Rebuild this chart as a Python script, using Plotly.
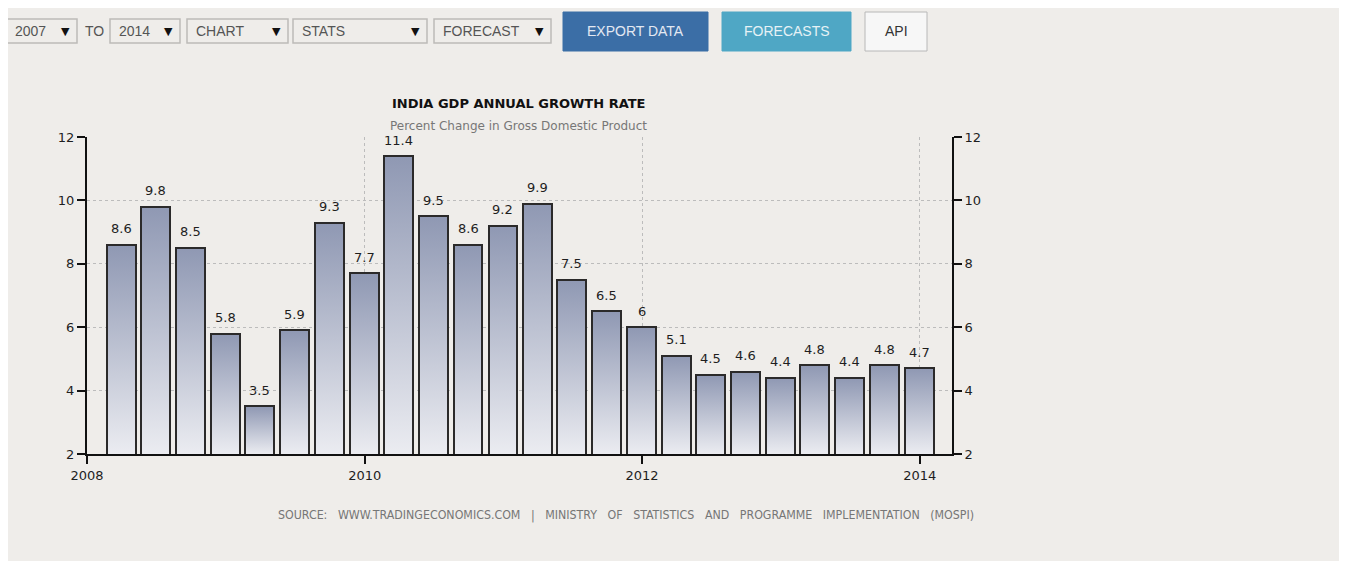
import pandas as pd
import plotly.graph_objects as go

# ---------------- data ----------------
quarters = ["2008-03-31", "2008-06-30", "2008-09-30", "2008-12-31",
            "2009-03-31", "2009-06-30", "2009-09-30", "2009-12-31",
            "2010-03-31", "2010-06-30", "2010-09-30", "2010-12-31",
            "2011-03-31", "2011-06-30", "2011-09-30", "2011-12-31",
            "2012-03-31", "2012-06-30", "2012-09-30", "2012-12-31",
            "2013-03-31", "2013-06-30", "2013-09-30", "2013-12-31"]
growth = [8.6, 9.8, 8.5, 5.8, 3.5, 5.9, 9.3, 7.7, 11.4, 9.5, 8.6, 9.2,
          9.9, 7.5, 6.5, 6, 5.1, 4.5, 4.6, 4.4, 4.8, 4.4, 4.8, 4.7]
labels = ["8.6", "9.8", "8.5", "5.8", "3.5", "5.9", "9.3", "7.7", "11.4", "9.5", "8.6", "9.2",
          "9.9", "7.5", "6.5", "6", "5.1", "4.5", "4.6", "4.4", "4.8", "4.4", "4.8", "4.7"]
year_ticks = ["2008-01-01", "2010-01-01", "2012-01-01", "2014-01-01"]
year_labels = ["2008", "2010", "2012", "2014"]
y_ticks = [2, 4, 6, 8, 10, 12]

# ---------------- style ----------------
BG = "#efedea"
OFF = 8                      # page body margin
W, H = 1347 - OFF, 561 - OFF
PL, PR, PT, PB = 87, 952, 137, 454   # plot area in page pixels
L, T = PL - OFF, PT - OFF
R = W - (PR - OFF)
B = H - (PB - OFF)
PW, PH = PR - PL, PB - PT
Y_MIN = 2
HALF_DAYS = 38

def px(xp):
    return (xp - PL) / PW

def py(yp):
    return (PB - yp) / PH

dates = pd.to_datetime(quarters)
half = pd.Timedelta(days=HALF_DAYS)

fig = go.Figure()

# gradient fill of each bar (light at the base, darker at the top)
for d, v in zip(dates, growth):
    fig.add_trace(go.Scatter(
        x=[d - half, d - half, d + half, d + half, d - half],
        y=[Y_MIN, v, v, Y_MIN, Y_MIN],
        mode="lines", line=dict(width=0), fill="toself",
        fillgradient=dict(type="vertical",
                          colorscale=[[0, "#ebecf1"], [1, "#8f98b3"]]),
        hoverinfo="skip", showlegend=False))

# bar outlines (real bars) on an overlaying axis so they sit above the fills
fig.add_trace(go.Bar(
    x=dates, y=growth, width=2 * HALF_DAYS * 86400000,
    marker=dict(color="rgba(0,0,0,0)", line=dict(color="#2b2a2a", width=2)),
    xaxis="x2", yaxis="y2", showlegend=False,
    hovertemplate="%{x|%b %Y}: %{y}<extra></extra>"))

axis_font = dict(family="DejaVu Sans", size=13, color="#1e1e1e")

fig.update_layout(
    width=W, height=H,
    margin=dict(l=L, r=R, t=T, b=B, pad=0),
    paper_bgcolor=BG, plot_bgcolor=BG,
    showlegend=False,
    xaxis=dict(type="date", range=["2008-01-01", "2014-03-27"],
               tickvals=year_ticks, ticktext=year_labels,
               showgrid=True, gridcolor="#bcbcbc", griddash="dot", gridwidth=1,
               showline=True, linecolor="#111", linewidth=2,
               ticks="outside", ticklen=8, tickwidth=2, tickcolor="#111",
               tickfont=axis_font, zeroline=False, fixedrange=True),
    yaxis=dict(range=[2, 12], tickvals=y_ticks,
               showgrid=True, gridcolor="#bcbcbc", griddash="dot", gridwidth=1,
               showline=True, linecolor="#111", linewidth=2,
               ticks="outside", ticklen=8, tickwidth=2, tickcolor="#111",
               tickfont=axis_font, zeroline=False, fixedrange=True),
    xaxis2=dict(type="date", overlaying="x", matches="x", visible=False),
    yaxis2=dict(overlaying="y", side="right", range=[2, 12], tickvals=y_ticks,
                showgrid=False, showline=True, linecolor="#111", linewidth=2,
                ticks="outside", ticklen=8, tickwidth=2, tickcolor="#111",
                tickfont=axis_font, zeroline=False, fixedrange=True),
    bargap=0,
)

ann = []
shapes = []

# value labels above bars
for d, v, lab in zip(dates, growth, labels):
    ann.append(dict(text=lab, x=d, y=v, xref="x", yref="y", showarrow=False,
                    xanchor="center", yanchor="middle", yshift=16,
                    font=dict(family="DejaVu Sans", size=13, color="#1e1e1e")))

# titles
ann.append(dict(text="<b>INDIA GDP ANNUAL GROWTH RATE</b>", xref="paper", yref="paper",
                x=px(518), y=py(103), showarrow=False, xanchor="center", yanchor="middle",
                font=dict(family="DejaVu Sans", size=13, color="#111")))
ann.append(dict(text="Percent Change in Gross Domestic Product", xref="paper", yref="paper",
                x=px(518), y=py(126), showarrow=False, xanchor="center", yanchor="middle",
                font=dict(family="DejaVu Sans", size=12, color="#777")))
ann.append(dict(text="SOURCE:   WWW.TRADINGECONOMICS.COM   |   MINISTRY   OF   STATISTICS   AND   PROGRAMME   IMPLEMENTATION   (MOSPI)",
                xref="paper", yref="paper", x=px(626), y=py(515), showarrow=False,
                xanchor="center", yanchor="middle",
                font=dict(family="DejaVu Sans Condensed", size=12.3, color="#767676")))

# top controls (dropdowns)
dropdowns = [(6, 77, "2007"), (110, 180, "2014"), (187, 288, "CHART"),
             (293, 427, "STATS"), (434, 551, "FORECAST")]
ctrl_font = dict(family="Liberation Sans", size=14, color="#555")
for x0, x1, txt in dropdowns:
    shapes.append(dict(type="rect", xref="paper", yref="paper",
                       x0=px(x0), x1=px(x1), y0=py(43), y1=py(19),
                       line=dict(color="#bdbbb8", width=1.5), fillcolor=BG))
    ann.append(dict(text=txt, xref="paper", yref="paper", x=px(x0 + 7), y=py(31),
                    xanchor="left", yanchor="middle", showarrow=False, font=ctrl_font))
    ann.append(dict(text="▼", xref="paper", yref="paper", x=px(x1 - 12), y=py(31),
                    xanchor="center", yanchor="middle", showarrow=False,
                    font=dict(family="DejaVu Sans", size=11, color="#111")))
ann.append(dict(text="TO", xref="paper", yref="paper", x=px(94), y=py(31),
                xanchor="center", yanchor="middle", showarrow=False, font=ctrl_font))

# buttons
buttons = [(563, 708, "EXPORT DATA", "#3b6ea6", "#3b6ea6", "#e3e8f2"),
           (722, 851, "FORECASTS", "#4fa7c5", "#4fa7c5", "#e6f2f6"),
           (865, 927, "API", "#f7f7f7", "#b8b8b8", "#333")]
for x0, x1, txt, fill, border, tcol in buttons:
    shapes.append(dict(type="rect", xref="paper", yref="paper",
                       x0=px(x0), x1=px(x1), y0=py(51), y1=py(12),
                       line=dict(color=border, width=1), fillcolor=fill))
    ann.append(dict(text=txt, xref="paper", yref="paper", x=px((x0 + x1) / 2), y=py(31),
                    xanchor="center", yanchor="middle", showarrow=False,
                    font=dict(family="Liberation Sans", size=14, color=tcol)))

fig.update_layout(annotations=ann, shapes=shapes)

fig.write_html("out.html")
